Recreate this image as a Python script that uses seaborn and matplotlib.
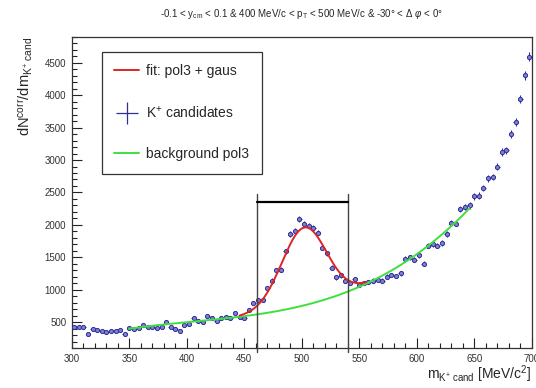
import numpy as np
import pandas as pd
import matplotlib
matplotlib.use("Agg")
import matplotlib.pyplot as plt
from matplotlib.lines import Line2D
from matplotlib.ticker import MultipleLocator
import seaborn as sns

# ---- data ----
mass = list(range(302, 702, 4))  # bin centres [MeV/c^2]
counts = [
    430, 420, 430, 320, 390, 385, 370, 355, 370, 360,
    380, 320, 410, 400, 415, 450, 420, 430, 410, 430,
    500, 420, 400, 360, 450, 470, 560, 510, 500, 590,
    560, 515, 560, 575, 560, 640, 580, 565, 680, 790,
    840, 840, 1020, 1140, 1300, 1310, 1590, 1860, 1910, 2090,
    2010, 1990, 1950, 1880, 1650, 1560, 1340, 1190, 1220, 1140,
    1100, 1160, 1080, 1100, 1120, 1140, 1150, 1140, 1200, 1230,
    1210, 1250, 1480, 1500, 1460, 1530, 1400, 1680, 1700, 1680,
    1720, 1860, 2030, 2020, 2250, 2270, 2300, 2440, 2450, 2570,
    2720, 2740, 2900, 3120, 3150, 3400, 3580, 3940, 4310, 4590,
]
count_err = [
    25, 25, 25, 25, 25, 25, 25, 25, 25, 25,
    25, 25, 25, 25, 25, 25, 25, 25, 25, 25,
    25, 25, 25, 25, 25, 25, 28, 28, 28, 28,
    28, 28, 28, 28, 28, 30, 30, 30, 30, 32,
    32, 32, 35, 35, 38, 38, 40, 42, 42, 45,
    45, 45, 45, 42, 40, 40, 38, 35, 35, 35,
    35, 35, 35, 35, 35, 35, 35, 35, 35, 35,
    35, 35, 38, 38, 38, 40, 38, 40, 40, 40,
    40, 42, 45, 45, 48, 48, 48, 50, 50, 52,
    52, 52, 55, 58, 58, 60, 62, 65, 68, 70,
]
bin_half_width = 2.0

# background pol3 read points
bg_mass = [350, 400, 440, 462, 496, 540, 569, 598, 627, 648]
bg_vals = [410, 465, 570, 640, 760, 960, 1170, 1540, 1940, 2290]
bg_range = [350, 646]
# gaussian signal parameters
gaus_amp, gaus_mean, gaus_sigma = 1200.0, 502.0, 19.5
fit_range = [446, 556]
# integration window
window = [461, 540]
window_top = 2470
window_bar = 2350

title = (r"-0.1 < y$_{\mathrm{cm}}$ < 0.1 & 400 MeV/c < p$_{\mathrm{T}}$ < 500 MeV/c"
         r" & -30° < $\Delta$ $\varphi$ < 0°")

# ---- styling ----
sns.set_theme(style="ticks")
plt.rcParams["font.family"] = ["Liberation Sans", "DejaVu Sans"]
plt.rcParams["mathtext.fontset"] = "custom"
plt.rcParams["mathtext.rm"] = "Liberation Sans"
plt.rcParams["mathtext.it"] = "Liberation Sans:italic"
plt.rcParams["mathtext.sf"] = "Liberation Sans"

fig = plt.figure(figsize=(5.36, 3.88), dpi=100)
ax = fig.add_axes([0.134, 0.103, 0.858, 0.802])

df = pd.DataFrame({"m": mass, "n": counts, "e": count_err})

# background curve
coef = np.polyfit(bg_mass, bg_vals, 3)
xb = np.linspace(bg_range[0], bg_range[1], 300)
bg_df = pd.DataFrame({"m": xb, "y": np.polyval(coef, xb)})
xf = np.linspace(fit_range[0], fit_range[1], 300)
fit_df = pd.DataFrame({"m": xf, "y": np.polyval(coef, xf)
                       + gaus_amp * np.exp(-0.5 * ((xf - gaus_mean) / gaus_sigma) ** 2)})

blue = "#2f2f9c"
# data points
ax.errorbar(df["m"], df["n"], yerr=df["e"], xerr=bin_half_width, fmt="none",
            ecolor=blue, elinewidth=0.8, capsize=0, zorder=3)
sns.scatterplot(data=df, x="m", y="n", ax=ax, marker="o", s=9,
                facecolor="#8080cc", edgecolor=blue, linewidth=0.7, zorder=4)

sns.lineplot(data=bg_df, x="m", y="y", ax=ax, color="#3ee03e", linewidth=1.4, zorder=5)
sns.lineplot(data=fit_df, x="m", y="y", ax=ax, color="#e02424", linewidth=1.4, zorder=6)

# window lines
ymin, ymax = 100, 4900
for wx in window:
    ax.plot([wx, wx], [ymin - 60, window_top], color="#444444", linewidth=1.0,
            clip_on=False, zorder=7)
ax.plot(window, [window_bar, window_bar], color="black", linewidth=1.6, zorder=7)

ax.set_xlim(300, 700)
ax.set_ylim(ymin, ymax)
ax.xaxis.set_major_locator(MultipleLocator(50))
ax.xaxis.set_minor_locator(MultipleLocator(10))
ax.yaxis.set_major_locator(MultipleLocator(500))
ax.yaxis.set_minor_locator(MultipleLocator(100))
ax.set_yticks([500, 1000, 1500, 2000, 2500, 3000, 3500, 4000, 4500])
ax.tick_params(which="both", direction="in", top=False, right=False,
               labelsize=7, colors="#222222", labelcolor="#333333", width=0.8)
ax.tick_params(which="major", length=7, pad=4)
ax.tick_params(which="minor", length=3.5)
for s in ax.spines.values():
    s.set_visible(True)
    s.set_color("#333333")
    s.set_linewidth(0.9)

ax.set_xlabel(r"m$_{\mathrm{K^{+}\ cand}}$ [MeV/c$^{2}$]", loc="right", fontsize=10,
              labelpad=0)
ax.set_ylabel(r"dN$^{\mathrm{corr}}$/dm$_{\mathrm{K^{+}\ cand}}$", loc="top", fontsize=10.5,
              labelpad=7)
ax.set_title(title, fontsize=7, pad=14, x=0.5)

handles = [
    Line2D([], [], color="#e02424", linewidth=1.4),
    Line2D([], [], color=blue, marker="+", markersize=16, markeredgewidth=0.9,
           linestyle="none"),
    Line2D([], [], color="#3ee03e", linewidth=1.4),
]
labels = ["fit: pol3 + gaus", r"K$^{+}$ candidates", "background pol3"]
leg = ax.legend(handles, labels, loc="upper left", bbox_to_anchor=(0.065, 0.952),
                borderaxespad=0, fontsize=10, labelspacing=1.9, handlelength=1.8,
                handletextpad=0.5, borderpad=0.9, fancybox=False, frameon=True)
leg.get_frame().set_edgecolor("black")
leg.get_frame().set_linewidth(0.9)

fig.savefig("out.png", dpi=100)
